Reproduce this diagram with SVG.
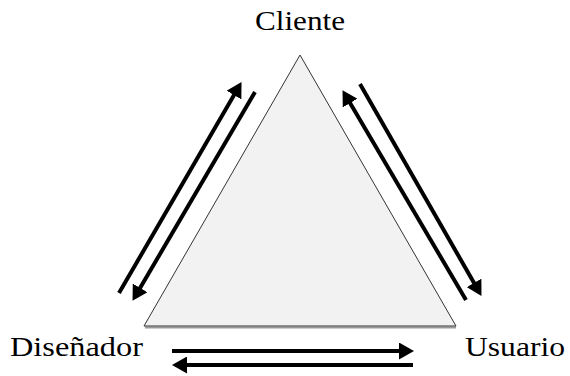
<svg xmlns="http://www.w3.org/2000/svg" width="570" height="376" viewBox="0 0 570 376">
<style>
.lbl{font-family:"Liberation Serif","Times New Roman",serif;font-size:27px;fill:#000;}
.arr{stroke:#000;stroke-width:4;fill:none;marker-end:url(#head);}
.tri{fill:#f2f2f2;stroke:#333;stroke-width:1;}
</style>
<defs>
<marker id="head" markerUnits="userSpaceOnUse" markerWidth="15" markerHeight="17" refX="3" refY="8.5" orient="auto">
<path d="M0,0 L15,8.5 L0,17 z" fill="#000"/>
</marker>
</defs>
<rect width="570" height="376" fill="#fff"/>
<g id="triangle">
<polyline points="145,327.5 456,327.5" fill="none" stroke="#999" stroke-width="2"/>
<polygon class="tri" points="300,55 144,326 456,326"/>
</g>
<g id="cliente"><text class="lbl" x="255" y="30" textLength="90" lengthAdjust="spacingAndGlyphs">Cliente</text></g>
<g id="disenador"><text class="lbl" x="10" y="356" textLength="133" lengthAdjust="spacingAndGlyphs">Diseñador</text></g>
<g id="usuario"><text class="lbl" x="465" y="356" textLength="100" lengthAdjust="spacingAndGlyphs">Usuario</text></g>
<g id="connectors">
<line class="arr" x1="119" y1="293" x2="235.5" y2="92.5"/>
<line class="arr" x1="255" y1="92" x2="138.6" y2="290.5"/>
<line class="arr" x1="466" y1="300" x2="348.6" y2="100.5"/>
<line class="arr" x1="360" y1="84" x2="475.5" y2="285.5"/>
<line class="arr" x1="172" y1="351" x2="402" y2="351"/>
<line class="arr" x1="413" y1="365" x2="184" y2="365"/>
</g>
</svg>
